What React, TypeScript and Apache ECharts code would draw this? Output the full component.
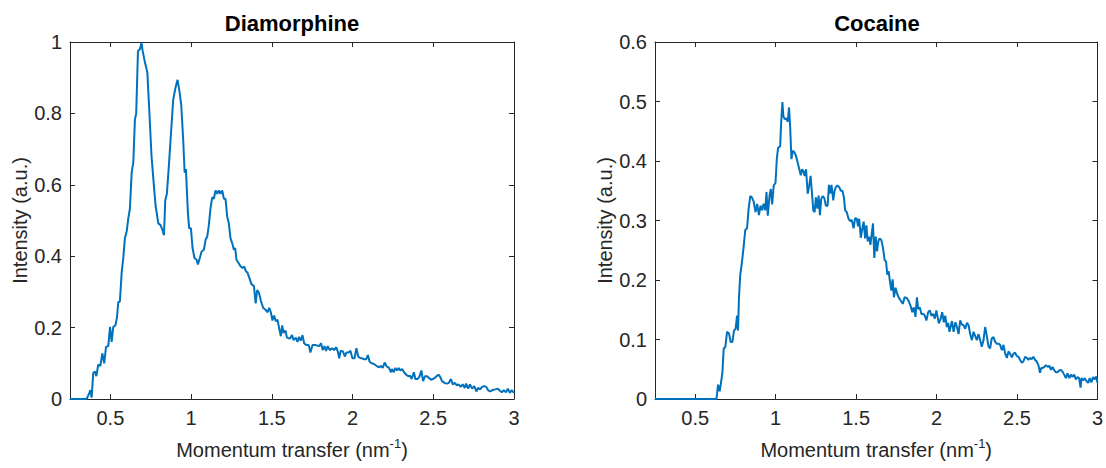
import React, { useEffect, useRef } from 'react';
import * as echarts from 'echarts';

const titles = ['Diamorphine', 'Cocaine'];
const xAxisName = 'Momentum transfer (nm{sup|-1})';
const yAxisName = 'Intensity (a.u.)';
const xRange = [0.25, 3];
const yMaxDia = 1;
const yMaxCoc = 0.6;

const diaX = [
  0.25, 0.353, 0.37, 0.376, 0.384, 0.394, 0.405, 0.413, 0.425, 0.438, 0.45, 0.462, 0.473, 0.487, 0.498, 0.508,
  0.518, 0.531, 0.541, 0.549, 0.559, 0.57, 0.58, 0.59, 0.601, 0.611, 0.621, 0.632, 0.642, 0.652, 0.66, 0.671,
  0.683, 0.693, 0.7, 0.714, 0.729, 0.741, 0.755, 0.768, 0.78, 0.797, 0.811, 0.823, 0.832, 0.84, 0.85, 0.861,
  0.873, 0.889, 0.902, 0.916, 0.927, 0.939, 0.951, 0.96, 0.968, 0.98, 0.988, 0.999, 1.009, 1.021, 1.034, 1.042,
  1.054, 1.065, 1.079, 1.09, 1.1, 1.11, 1.12, 1.131, 1.141, 1.151, 1.162, 1.172, 1.182, 1.193, 1.203, 1.213,
  1.224, 1.234, 1.244, 1.255, 1.265, 1.273, 1.281, 1.294, 1.306, 1.318, 1.329, 1.339, 1.349, 1.364, 1.374, 1.389,
  1.4, 1.409, 1.42, 1.432, 1.447, 1.461, 1.474, 1.484, 1.494, 1.504, 1.514, 1.525, 1.535, 1.546, 1.556, 1.564,
  1.573, 1.584, 1.594, 1.611, 1.625, 1.635, 1.649, 1.659, 1.669, 1.679, 1.69, 1.7, 1.714, 1.729, 1.739, 1.752,
  1.772, 1.793, 1.805, 1.815, 1.826, 1.836, 1.846, 1.859, 1.873, 1.886, 1.898, 1.909, 1.917, 1.927, 1.941, 1.952,
  1.962, 1.975, 1.987, 1.999, 2.012, 2.024, 2.035, 2.049, 2.059, 2.072, 2.084, 2.095, 2.105, 2.118, 2.129, 2.139,
  2.154, 2.166, 2.176, 2.187, 2.199, 2.212, 2.226, 2.238, 2.245, 2.255, 2.266, 2.276, 2.286, 2.296, 2.307, 2.319,
  2.333, 2.345, 2.357, 2.366, 2.38, 2.389, 2.402, 2.414, 2.426, 2.437, 2.449, 2.46, 2.474, 2.486, 2.497, 2.509,
  2.523, 2.533, 2.543, 2.554, 2.57, 2.584, 2.596, 2.609, 2.621, 2.634, 2.646, 2.657, 2.67, 2.682, 2.695, 2.703,
  2.716, 2.727, 2.741, 2.754, 2.767, 2.777, 2.79, 2.802, 2.814, 2.828, 2.839, 2.852, 2.866, 2.884, 2.9, 2.912,
  2.925, 2.937, 2.95, 2.962, 2.974, 2.986, 3.0,
];
const diaY = [
  0, 0, 0.017, 0.025, 0.004, 0.073, 0.077, 0.064, 0.096, 0.093, 0.128, 0.1, 0.146, 0.148, 0.202, 0.16,
  0.202, 0.206, 0.229, 0.271, 0.273, 0.354, 0.395, 0.45, 0.469, 0.506, 0.533, 0.634, 0.662, 0.782, 0.8, 0.975,
  0.98, 0.998, 0.975, 0.943, 0.915, 0.809, 0.68, 0.607, 0.542, 0.492, 0.487, 0.473, 0.459, 0.556, 0.575, 0.644,
  0.727, 0.837, 0.869, 0.894, 0.865, 0.823, 0.727, 0.634, 0.644, 0.524, 0.478, 0.478, 0.423, 0.395, 0.39, 0.377,
  0.395, 0.413, 0.418, 0.446, 0.455, 0.487, 0.533, 0.565, 0.561, 0.584, 0.575, 0.584, 0.575, 0.584, 0.561, 0.561,
  0.51, 0.492, 0.45, 0.436, 0.418, 0.423, 0.39, 0.381, 0.372, 0.367, 0.371, 0.358, 0.354, 0.335, 0.321, 0.317,
  0.268, 0.305, 0.298, 0.275, 0.255, 0.25, 0.243, 0.255, 0.243, 0.22, 0.234, 0.218, 0.222, 0.197, 0.176, 0.206,
  0.185, 0.192, 0.172, 0.169, 0.179, 0.165, 0.172, 0.16, 0.174, 0.163, 0.179, 0.156, 0.151, 0.151, 0.13, 0.151,
  0.151, 0.148, 0.156, 0.137, 0.148, 0.135, 0.148, 0.137, 0.142, 0.137, 0.145, 0.133, 0.114, 0.135, 0.133, 0.119,
  0.13, 0.13, 0.135, 0.114, 0.114, 0.142, 0.119, 0.114, 0.114, 0.111, 0.111, 0.123, 0.105, 0.1, 0.099, 0.096,
  0.091, 0.089, 0.093, 0.087, 0.102, 0.091, 0.087, 0.075, 0.084, 0.075, 0.087, 0.08, 0.087, 0.08, 0.084, 0.075,
  0.068, 0.064, 0.065, 0.056, 0.075, 0.056, 0.056, 0.062, 0.08, 0.05, 0.064, 0.064, 0.059, 0.054, 0.056, 0.059,
  0.065, 0.068, 0.062, 0.05, 0.045, 0.043, 0.045, 0.056, 0.041, 0.045, 0.038, 0.041, 0.034, 0.041, 0.031, 0.043,
  0.029, 0.041, 0.029, 0.036, 0.021, 0.031, 0.027, 0.034, 0.036, 0.034, 0.025, 0.021, 0.025, 0.027, 0.029, 0.023,
  0.019, 0.025, 0.019, 0.029, 0.017, 0.025, 0.017,
];

const cocX = [
  0.25, 0.627, 0.632, 0.642, 0.652, 0.66, 0.669, 0.677, 0.687, 0.698, 0.71, 0.72, 0.731, 0.741, 0.751, 0.76,
  0.766, 0.772, 0.78, 0.79, 0.801, 0.811, 0.822, 0.832, 0.842, 0.852, 0.863, 0.875, 0.885, 0.896, 0.906, 0.916,
  0.925, 0.935, 0.943, 0.951, 0.962, 0.97, 0.978, 0.988, 0.999, 1.007, 1.015, 1.028, 1.034, 1.042, 1.048, 1.057,
  1.065, 1.075, 1.083, 1.09, 1.098, 1.106, 1.116, 1.127, 1.137, 1.147, 1.156, 1.164, 1.172, 1.18, 1.189, 1.199,
  1.209, 1.217, 1.226, 1.234, 1.242, 1.25, 1.259, 1.267, 1.275, 1.283, 1.292, 1.302, 1.312, 1.323, 1.331, 1.339,
  1.347, 1.358, 1.366, 1.374, 1.384, 1.395, 1.405, 1.415, 1.424, 1.432, 1.442, 1.453, 1.463, 1.473, 1.484, 1.494,
  1.504, 1.512, 1.519, 1.529, 1.539, 1.547, 1.556, 1.564, 1.572, 1.58, 1.589, 1.597, 1.605, 1.613, 1.622, 1.63,
  1.638, 1.646, 1.657, 1.667, 1.677, 1.686, 1.694, 1.702, 1.71, 1.719, 1.727, 1.735, 1.745, 1.756, 1.766, 1.778,
  1.791, 1.801, 1.814, 1.826, 1.838, 1.849, 1.859, 1.869, 1.878, 1.886, 1.896, 1.906, 1.917, 1.927, 1.937, 1.948,
  1.958, 1.968, 1.979, 1.989, 1.999, 2.014, 2.026, 2.035, 2.045, 2.054, 2.064, 2.072, 2.08, 2.088, 2.096, 2.106,
  2.117, 2.127, 2.137, 2.147, 2.158, 2.168, 2.178, 2.189, 2.199, 2.209, 2.22, 2.23, 2.24, 2.25, 2.261, 2.271,
  2.281, 2.292, 2.302, 2.312, 2.323, 2.333, 2.343, 2.354, 2.364, 2.374, 2.385, 2.395, 2.406, 2.416, 2.426, 2.437,
  2.447, 2.457, 2.468, 2.478, 2.488, 2.499, 2.509, 2.519, 2.53, 2.54, 2.55, 2.561, 2.571, 2.581, 2.591, 2.602,
  2.612, 2.622, 2.633, 2.643, 2.651, 2.66, 2.67, 2.68, 2.691, 2.701, 2.711, 2.721, 2.732, 2.742, 2.752, 2.763,
  2.773, 2.783, 2.793, 2.804, 2.814, 2.825, 2.835, 2.845, 2.855, 2.866, 2.876, 2.886, 2.895, 2.901, 2.911, 2.921,
  2.932, 2.942, 2.952, 2.962, 2.973, 2.983, 2.993, 3.0,
];
const cocY = [
  0, 0, 0, 0.024, 0.013, 0.027, 0.044, 0.085, 0.087, 0.113, 0.11, 0.096, 0.096, 0.115, 0.118, 0.14,
  0.115, 0.171, 0.209, 0.229, 0.256, 0.284, 0.287, 0.32, 0.341, 0.339, 0.332, 0.314, 0.328, 0.309, 0.325, 0.317,
  0.328, 0.317, 0.348, 0.308, 0.342, 0.353, 0.327, 0.359, 0.363, 0.403, 0.422, 0.425, 0.464, 0.499, 0.475, 0.47,
  0.472, 0.466, 0.49, 0.458, 0.403, 0.417, 0.415, 0.408, 0.397, 0.386, 0.376, 0.386, 0.383, 0.375, 0.386, 0.345,
  0.359, 0.375, 0.345, 0.317, 0.314, 0.339, 0.32, 0.342, 0.309, 0.336, 0.341, 0.338, 0.325, 0.325, 0.36, 0.345,
  0.36, 0.334, 0.35, 0.356, 0.359, 0.356, 0.35, 0.35, 0.339, 0.317, 0.314, 0.303, 0.299, 0.301, 0.287, 0.304,
  0.303, 0.29, 0.303, 0.271, 0.287, 0.298, 0.27, 0.292, 0.265, 0.273, 0.259, 0.278, 0.295, 0.237, 0.273, 0.248,
  0.265, 0.27, 0.267, 0.254, 0.234, 0.231, 0.209, 0.215, 0.198, 0.182, 0.201, 0.171, 0.187, 0.176, 0.17, 0.165,
  0.16, 0.171, 0.17, 0.165, 0.157, 0.146, 0.154, 0.138, 0.171, 0.151, 0.154, 0.143, 0.143, 0.14, 0.132, 0.146,
  0.149, 0.14, 0.143, 0.135, 0.149, 0.127, 0.135, 0.146, 0.129, 0.14, 0.121, 0.128, 0.113, 0.122, 0.131, 0.113,
  0.129, 0.121, 0.109, 0.132, 0.125, 0.124, 0.118, 0.128, 0.124, 0.109, 0.099, 0.113, 0.106, 0.099, 0.109, 0.099,
  0.088, 0.099, 0.121, 0.107, 0.088, 0.085, 0.102, 0.104, 0.096, 0.093, 0.093, 0.091, 0.082, 0.091, 0.077, 0.069,
  0.08, 0.076, 0.07, 0.076, 0.078, 0.072, 0.071, 0.066, 0.061, 0.063, 0.071, 0.069, 0.066, 0.069, 0.067, 0.071,
  0.066, 0.063, 0.057, 0.044, 0.052, 0.052, 0.054, 0.057, 0.054, 0.056, 0.049, 0.054, 0.048, 0.045, 0.045, 0.048,
  0.049, 0.046, 0.041, 0.035, 0.043, 0.035, 0.041, 0.037, 0.041, 0.033, 0.037, 0.035, 0.019, 0.035, 0.031, 0.035,
  0.03, 0.027, 0.035, 0.028, 0.037, 0.033, 0.038, 0.027,
];

const FONT = '"Liberation Sans", Arial, Helvetica, sans-serif';
const AX = '#262626';
const LINE = '#0072BD';
const GRIDS = [
  { left: 70, top: 42, width: 444, height: 362 },
  { left: 655, top: 42, width: 444, height: 362 },
];

function zip(xs: number[], ys: number[]) {
  return xs.map((x, i) => [x, ys[i]]);
}

function xAxes(gridIndex: number) {
  const common = {
    type: 'value',
    gridIndex,
    min: xRange[0],
    max: xRange[1],
    minInterval: 0.5,
    maxInterval: 0.5,
    splitLine: { show: false },
    axisLine: { show: true, onZero: false, lineStyle: { color: AX, width: 1 } },
    axisTick: { show: true, inside: true, length: 5, lineStyle: { color: AX } },
  };
  return [
    {
      ...common,
      position: 'bottom',
      name: xAxisName,
      nameLocation: 'middle',
      nameGap: 38,
      nameTextStyle: {
        fontSize: 20,
        color: AX,
        fontFamily: FONT,
        lineHeight: 26,
        rich: { sup: { fontSize: 13, lineHeight: 13, verticalAlign: 'top', color: AX, fontFamily: FONT } },
      },
      axisLabel: { show: true, showMinLabel: false, margin: 9, fontSize: 20, color: AX, fontFamily: FONT },
    },
    { ...common, position: 'top', axisLabel: { show: false } },
  ];
}

function yAxes(gridIndex: number, max: number, interval: number) {
  const common = {
    type: 'value',
    gridIndex,
    min: 0,
    max,
    interval,
    splitLine: { show: false },
    axisLine: { show: true, onZero: false, lineStyle: { color: AX, width: 1 } },
    axisTick: { show: true, inside: true, length: 5, lineStyle: { color: AX } },
  };
  return [
    {
      ...common,
      position: 'left',
      name: yAxisName,
      nameLocation: 'middle',
      nameGap: 38,
      nameTextStyle: { fontSize: 20, color: AX, fontFamily: FONT },
      axisLabel: { show: true, margin: 8, fontSize: 20, color: AX, fontFamily: FONT },
    },
    { ...common, position: 'right', axisLabel: { show: false } },
  ];
}

export default function App() {
  const ref = useRef<HTMLDivElement>(null);
  useEffect(() => {
    if (!ref.current) return;
    const chart = echarts.init(ref.current, null, { renderer: 'svg' });
    chart.setOption({
      animation: false,
      backgroundColor: '#ffffff',
      title: titles.map((t, i) => ({
        text: t,
        left: GRIDS[i].left + GRIDS[i].width / 2,
        top: 12,
        textAlign: 'center',
        padding: 0,
        textStyle: { fontSize: 22, fontWeight: 'bold', color: '#000', fontFamily: FONT },
      })),
      grid: GRIDS.map((g) => ({ ...g, containLabel: false })),
      xAxis: [...xAxes(0), ...xAxes(1)],
      yAxis: [...yAxes(0, yMaxDia, 0.2), ...yAxes(1, yMaxCoc, 0.1)],
      series: [
        {
          type: 'line',
          name: titles[0],
          xAxisIndex: 0,
          yAxisIndex: 0,
          data: zip(diaX, diaY),
          showSymbol: false,
          lineStyle: { color: LINE, width: 2 },
          itemStyle: { color: LINE },
        },
        {
          type: 'line',
          name: titles[1],
          xAxisIndex: 2,
          yAxisIndex: 2,
          data: zip(cocX, cocY),
          showSymbol: false,
          lineStyle: { color: LINE, width: 2 },
          itemStyle: { color: LINE },
        },
      ],
    });
    return () => chart.dispose();
  }, []);
  return (
    <div
      ref={ref}
      style={{ position: 'fixed', left: 0, top: 0, width: 1106, height: 468, background: '#fff' }}
    />
  );
}
